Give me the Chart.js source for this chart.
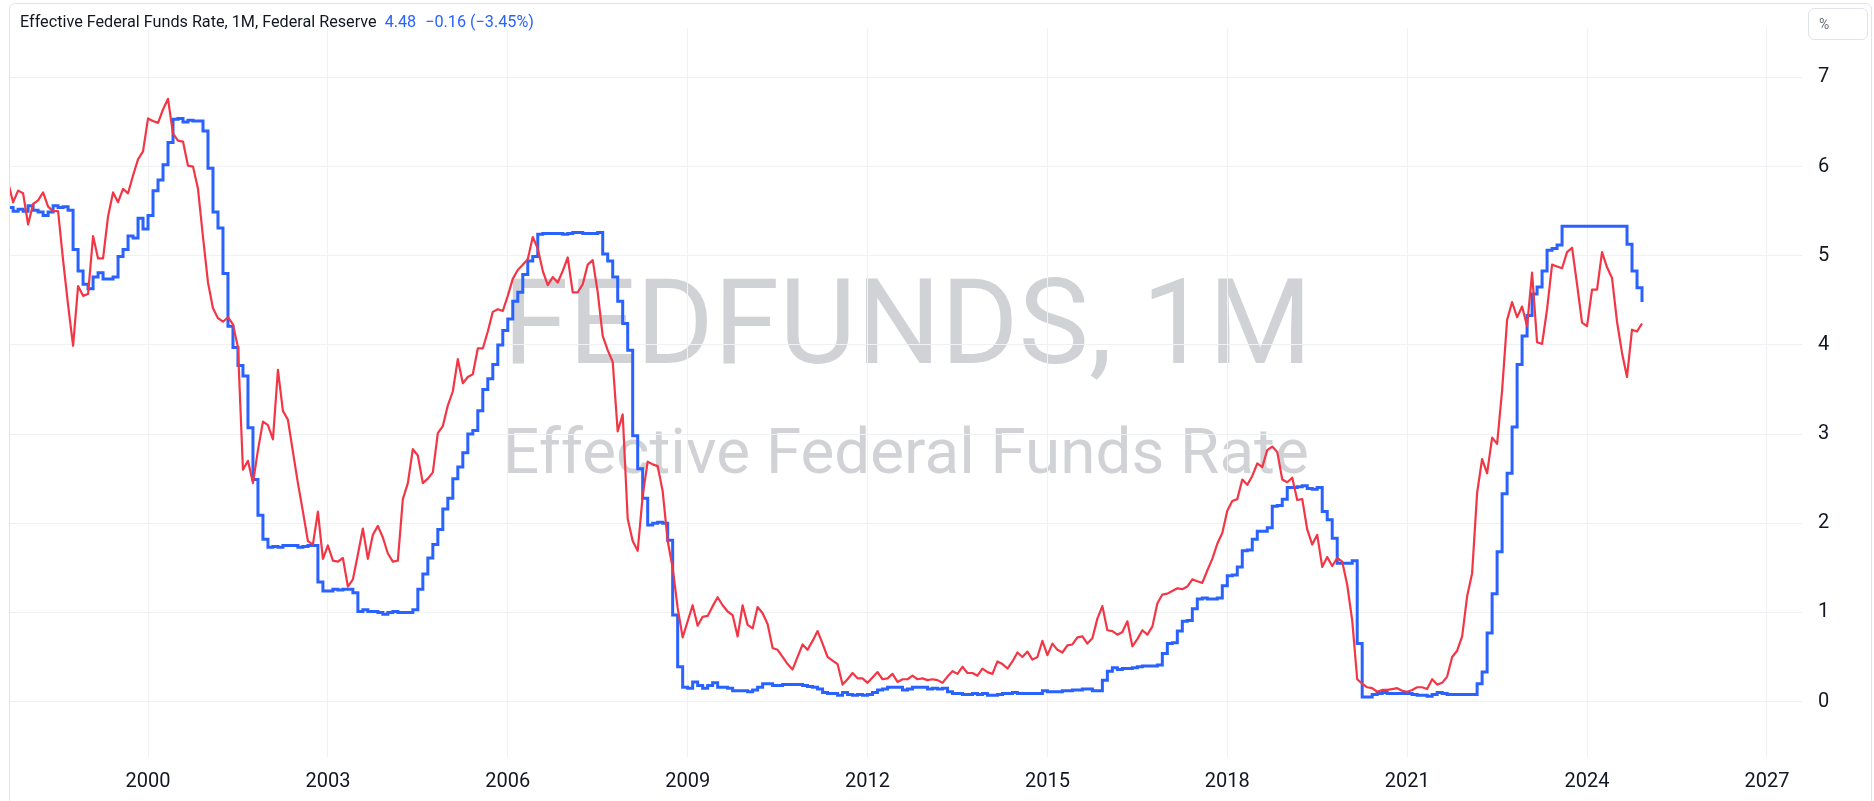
<!DOCTYPE html>
<html>
<head>
<meta charset="utf-8">
<script src="https://cdn.jsdelivr.net/npm/chart.js@4.4.1/dist/chart.umd.min.js"></script>
<style>
  html, body { margin: 0; padding: 0; background: #fff; }
  body { width: 1874px; height: 801px; position: relative; overflow: hidden; font-family: Roboto, "Liberation Sans", sans-serif; }
  #frame { position: absolute; left: 9px; top: 3px; width: 1863px; height: 830px; border: 1px solid #e0e3eb; border-radius: 6px; box-sizing: border-box; }
  .wm { position: absolute; left: 0; top: 0; white-space: nowrap; color: #d1d2d6; font-family: Roboto, sans-serif; line-height: 1; }
  .probe { display: inline-block; width: 0; height: 0; }
  #chart { position: absolute; left: 0; top: 0; }
  #legend { position: absolute; left: 20px; top: 14px; white-space: nowrap; font-size: 16.2px; color: #131722; line-height: 1; }
  #legend .val { color: #2962ff; margin-left: 8px; }
  #legend .chg { color: #2962ff; margin-left: 9px; }
  #unit { position: absolute; left: 1808px; top: 8px; width: 60px; height: 32px; border: 1px solid #e0e3eb; border-radius: 6px; box-sizing: border-box; }
  #unit span { position: absolute; left: 10px; top: 7px; font-size: 14px; color: #6a6d78; }
</style>
</head>
<body>
<div id="frame"></div>
<div class="wm" id="wm1">FEDFUNDS, 1M<span class="probe"></span></div>
<div class="wm" id="wm2">Effective Federal Funds Rate<span class="probe"></span></div>
<canvas id="chart" width="1874" height="801"></canvas>
<div id="legend">Effective Federal Funds Rate, 1M, Federal Reserve<span class="val">4.48</span><span class="chg">&minus;0.16 (&minus;3.45%)</span></div>
<div id="unit"><span>%</span></div>
<script>
// monthly values, first month = Aug 1997
var startYear = 1997;
var startMonth = 8;

// Effective federal funds rate (blue, stepped)
var fedFunds = [
  5.54, 5.54, 5.50, 5.52, 5.50,
  5.56, 5.51, 5.49, 5.45, 5.49, 5.56, 5.54, 5.55, 5.51, 5.07, 4.83, 4.68,
  4.63, 4.76, 4.81, 4.74, 4.74, 4.76, 4.99, 5.07, 5.22, 5.20, 5.42, 5.30,
  5.45, 5.73, 5.85, 6.02, 6.27, 6.53, 6.54, 6.50, 6.52, 6.51, 6.51, 6.40,
  5.98, 5.49, 5.31, 4.80, 4.21, 3.97, 3.77, 3.65, 3.07, 2.49, 2.09, 1.82,
  1.73, 1.74, 1.73, 1.75, 1.75, 1.75, 1.73, 1.74, 1.75, 1.75, 1.34, 1.24,
  1.24, 1.26, 1.25, 1.26, 1.26, 1.22, 1.01, 1.03, 1.01, 1.01, 1.00, 0.98,
  1.00, 1.01, 1.00, 1.00, 1.00, 1.03, 1.26, 1.43, 1.61, 1.76, 1.93, 2.16,
  2.28, 2.50, 2.63, 2.79, 3.00, 3.04, 3.26, 3.50, 3.62, 3.78, 4.00, 4.16,
  4.29, 4.49, 4.59, 4.79, 4.94, 4.99, 5.24, 5.25, 5.25, 5.25, 5.25, 5.24,
  5.25, 5.26, 5.26, 5.25, 5.25, 5.25, 5.26, 5.02, 4.94, 4.76, 4.49, 4.24,
  3.94, 2.98, 2.61, 2.28, 1.98, 2.00, 2.01, 2.00, 1.81, 0.97, 0.39, 0.16,
  0.15, 0.22, 0.18, 0.15, 0.18, 0.21, 0.16, 0.16, 0.15, 0.12, 0.12, 0.12,
  0.11, 0.13, 0.16, 0.20, 0.20, 0.18, 0.18, 0.19, 0.19, 0.19, 0.19, 0.18,
  0.17, 0.16, 0.14, 0.10, 0.09, 0.09, 0.07, 0.10, 0.08, 0.07, 0.08, 0.07,
  0.08, 0.10, 0.13, 0.14, 0.16, 0.16, 0.16, 0.13, 0.14, 0.16, 0.16, 0.16,
  0.14, 0.15, 0.14, 0.15, 0.11, 0.09, 0.09, 0.08, 0.08, 0.09, 0.08, 0.09,
  0.07, 0.07, 0.08, 0.09, 0.09, 0.10, 0.09, 0.09, 0.09, 0.09, 0.09, 0.12,
  0.11, 0.11, 0.11, 0.12, 0.12, 0.13, 0.13, 0.14, 0.14, 0.12, 0.12, 0.24,
  0.34, 0.38, 0.36, 0.37, 0.37, 0.38, 0.39, 0.40, 0.40, 0.40, 0.41, 0.54,
  0.65, 0.66, 0.79, 0.90, 0.91, 1.04, 1.15, 1.16, 1.15, 1.15, 1.16, 1.30,
  1.41, 1.42, 1.51, 1.69, 1.70, 1.82, 1.91, 1.91, 1.95, 2.19, 2.20, 2.27,
  2.40, 2.40, 2.41, 2.42, 2.39, 2.38, 2.40, 2.13, 2.04, 1.83, 1.55, 1.55,
  1.55, 1.58, 0.65, 0.05, 0.05, 0.08, 0.09, 0.10, 0.09, 0.09, 0.09, 0.09,
  0.09, 0.08, 0.07, 0.07, 0.06, 0.08, 0.10, 0.09, 0.08, 0.08, 0.08, 0.08,
  0.08, 0.08, 0.20, 0.33, 0.77, 1.21, 1.68, 2.33, 2.56, 3.08, 3.78, 4.10,
  4.33, 4.57, 4.65, 4.83, 5.06, 5.08, 5.12, 5.33, 5.33, 5.33, 5.33, 5.33,
  5.33, 5.33, 5.33, 5.33, 5.33, 5.33, 5.33, 5.33, 5.13, 4.83, 4.64, 4.48
];

// comparison series (red), same months
var twoYear = [
  5.87, 5.82, 5.60, 5.73, 5.70,
  5.35, 5.58, 5.62, 5.71, 5.55, 5.50, 5.50, 4.95, 4.45, 3.99, 4.66, 4.55,
  4.57, 5.22, 4.97, 4.97, 5.44, 5.71, 5.60, 5.75, 5.70, 5.90, 6.08, 6.17,
  6.54, 6.51, 6.49, 6.64, 6.76, 6.37, 6.29, 6.28, 6.01, 6.00, 5.75, 5.21,
  4.70, 4.41, 4.30, 4.26, 4.31, 4.23, 3.97, 2.60, 2.70, 2.45, 2.82, 3.14,
  3.10, 2.94, 3.72, 3.26, 3.16, 2.80, 2.45, 2.13, 1.80, 1.76, 2.13, 1.60,
  1.75, 1.58, 1.57, 1.61, 1.29, 1.37, 1.65, 1.94, 1.60, 1.87, 1.97, 1.84,
  1.66, 1.57, 1.58, 2.27, 2.45, 2.83, 2.76, 2.45, 2.50, 2.57, 3.01, 3.09,
  3.32, 3.48, 3.84, 3.57, 3.64, 3.67, 3.96, 3.96, 4.15, 4.37, 4.40, 4.38,
  4.55, 4.74, 4.84, 4.90, 4.96, 5.21, 5.08, 4.83, 4.67, 4.76, 4.70, 4.83,
  4.98, 4.59, 4.59, 4.68, 4.90, 4.95, 4.59, 4.10, 3.94, 3.81, 3.03, 3.22,
  2.05, 1.80, 1.69, 2.31, 2.69, 2.66, 2.64, 2.36, 1.80, 1.50, 1.05, 0.72,
  0.90, 1.08, 0.85, 0.95, 0.96, 1.07, 1.17, 1.08, 1.01, 0.97, 0.73, 1.08,
  0.86, 0.82, 1.06, 0.99, 0.87, 0.60, 0.58, 0.50, 0.42, 0.36, 0.50, 0.64,
  0.58, 0.68, 0.79, 0.65, 0.50, 0.46, 0.42, 0.19, 0.25, 0.32, 0.26, 0.26,
  0.21, 0.27, 0.33, 0.25, 0.26, 0.31, 0.22, 0.25, 0.25, 0.29, 0.25, 0.26,
  0.24, 0.25, 0.24, 0.21, 0.28, 0.34, 0.31, 0.39, 0.32, 0.32, 0.29, 0.37,
  0.33, 0.31, 0.45, 0.42, 0.37, 0.45, 0.55, 0.50, 0.56, 0.47, 0.50, 0.68,
  0.52, 0.65, 0.58, 0.55, 0.63, 0.64, 0.72, 0.73, 0.65, 0.71, 0.93, 1.07,
  0.80, 0.79, 0.75, 0.78, 0.90, 0.62, 0.70, 0.80, 0.75, 0.84, 1.10, 1.20,
  1.21, 1.24, 1.27, 1.26, 1.29, 1.37, 1.35, 1.33, 1.47, 1.60, 1.77, 1.89,
  2.14, 2.25, 2.27, 2.49, 2.43, 2.53, 2.67, 2.63, 2.82, 2.86, 2.80, 2.49,
  2.46, 2.51, 2.26, 2.27, 1.93, 1.76, 1.87, 1.51, 1.62, 1.52, 1.61, 1.57,
  1.31, 0.91, 0.25, 0.20, 0.16, 0.15, 0.11, 0.13, 0.13, 0.14, 0.15, 0.12,
  0.11, 0.13, 0.16, 0.16, 0.14, 0.25, 0.19, 0.21, 0.28, 0.50, 0.57, 0.73,
  1.18, 1.44, 2.34, 2.72, 2.56, 2.96, 2.89, 3.49, 4.28, 4.48, 4.31, 4.43,
  4.21, 4.81, 4.03, 4.01, 4.40, 4.90, 4.88, 4.86, 5.04, 5.09, 4.68, 4.25,
  4.21, 4.62, 4.62, 5.04, 4.87, 4.75, 4.26, 3.91, 3.64, 4.17, 4.15, 4.24
];

var yearTicks = [2000, 2003, 2006, 2009, 2012, 2015, 2018, 2021, 2024, 2027];
var rateTicks = [0, 1, 2, 3, 4, 5, 6, 7];

function monthX(i) {
  return startYear + (startMonth - 1 + i) / 12;
}

var fedPoints = fedFunds.map((v, i) => ({ x: monthX(i), y: v }));
var twoPoints = twoYear.map((v, i) => ({ x: monthX(i), y: v }));

// watermark lines: scale to the wanted width, put the baseline where it belongs
function placeLine(id, left, right, baseline) {
  var el = document.getElementById(id);
  el.style.fontSize = '100px';
  var w = el.getBoundingClientRect().width;
  el.style.fontSize = (100 * (right - left) / w) + 'px';
  var probe = el.querySelector('.probe');
  var b = probe.getBoundingClientRect().top;
  el.style.left = left + 'px';
  el.style.top = (baseline - b) + 'px';
}
placeLine('wm1', 503, 1312, 363);
placeLine('wm2', 503, 1309, 473);

var gridColor = '#eff1f4';
var ctx = document.getElementById('chart').getContext('2d');
var chart = new Chart(ctx, {
  type: 'line',
  data: {
    datasets: [
      {
        label: 'US 2Y',
        data: twoPoints,
        borderColor: '#f23645',
        borderWidth: 2.2,
        pointRadius: 0,
        tension: 0,
        borderJoinStyle: 'round'
      },
      {
        label: 'FEDFUNDS',
        data: fedPoints,
        borderColor: '#2962ff',
        borderWidth: 3,
        pointRadius: 0,
        stepped: 'before'
      }
    ]
  },
  options: {
    responsive: false,
    animation: false,
    devicePixelRatio: 1,
    layout: { padding: { left: 10, top: 4, right: 0, bottom: 0 } },
    plugins: {
      legend: { display: false },
      tooltip: { enabled: false }
    },
    scales: {
      x: {
        type: 'linear',
        position: 'bottom',
        min: 1997.698,
        max: 2027.585,
        afterBuildTicks: s => { s.ticks = yearTicks.map(v => ({ value: v })); },
        afterFit: s => { s.height = 44; },
        grid: { color: gridColor, drawTicks: false },
        border: { display: false },
        ticks: {
          padding: 13,
          color: '#131722',
          font: { family: 'Roboto', size: 20 },
          maxRotation: 0,
          autoSkip: false,
          callback: v => String(v)
        }
      },
      y: {
        position: 'right',
        min: -0.622,
        max: 7.554,
        afterBuildTicks: s => { s.ticks = rateTicks.map(v => ({ value: v })); },
        afterFit: s => { s.width = 72; },
        grid: { color: gridColor, drawTicks: false },
        border: { display: false },
        ticks: {
          padding: 16,
          color: '#131722',
          font: { family: 'Roboto', size: 20 },
          callback: v => String(v)
        }
      }
    }
  }
});
</script>
</body>
</html>
